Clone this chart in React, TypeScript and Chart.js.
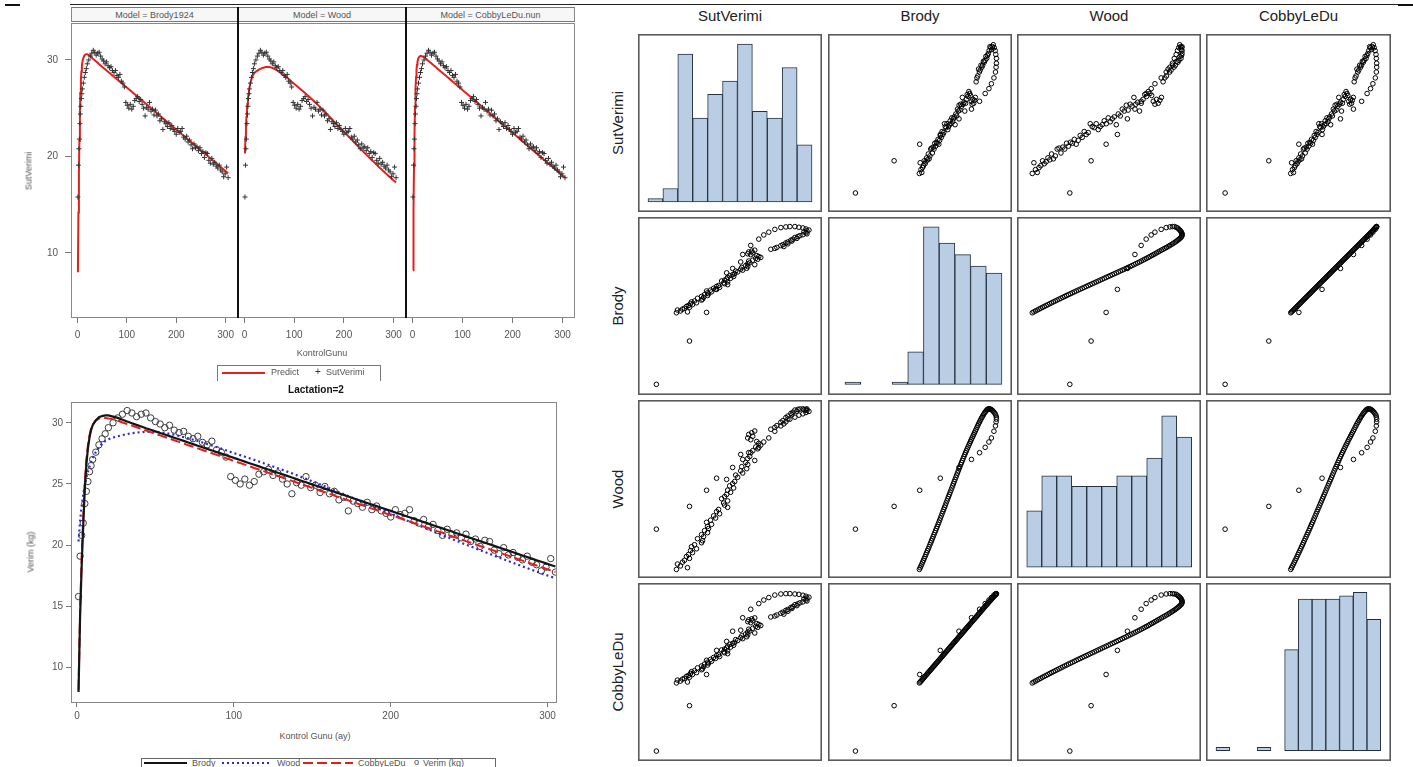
import React, { useEffect, useRef } from "react";
import { Chart, registerables } from "chart.js";
Chart.register(...registerables);

// ---------------- data ----------------
const days = [1, 2, 3, 4, 5, 6, 7, 8, 9, 10, 12, 14, 16, 18, 20,
  23, 26, 29, 32, 35, 38, 41, 44, 47, 50,
  53, 56, 59, 62, 65, 68, 71, 74, 77, 80,
  83, 86, 89, 92, 95, 98, 101, 104, 107, 110,
  113, 116, 119, 122, 125, 128, 131, 134, 137, 140,
  143, 146, 149, 152, 155, 158, 161, 164, 167, 170,
  173, 176, 179, 182, 185, 188, 191, 194, 197, 200,
  203, 206, 209, 212, 215, 218, 221, 224, 227, 230,
  233, 236, 239, 242, 245, 248, 251, 254, 257, 260,
  263, 266, 269, 272, 275, 278, 281, 284, 287, 290,
  293, 296, 299, 302, 305];

const sutVerimi = [15.8, 19.1, 20.8, 21.8, 23.4, 24.4, 25.2, 26.0, 26.5, 27.0, 27.6, 28.2, 28.7, 29.1, 29.6,
  30.0, 30.4, 30.7, 31.0, 30.8, 30.5, 30.7, 30.8, 30.4, 30.1,
  29.9, 29.6, 29.8, 29.4, 29.2, 29.3, 28.9, 28.7, 28.9, 28.4,
  28.2, 28.5, 27.8, 27.6, 27.2, 25.6, 25.3, 25.0, 25.4, 24.9,
  25.2, 25.8, 26.0, 26.2, 25.7, 25.9, 25.4, 25.0, 24.2, 25.1,
  24.9, 25.6, 24.7, 24.9, 24.3, 24.8, 24.2, 24.4, 23.7, 23.9,
  22.8, 23.6, 23.4, 23.1, 23.5, 22.9, 23.2, 22.8, 22.6, 22.3,
  22.9, 22.5, 22.6, 22.9, 22.0, 21.8, 22.1, 21.5, 21.7, 21.2,
  20.8, 21.3, 20.9, 21.0, 20.6, 20.9, 20.3, 20.5, 19.9, 20.4,
  20.3, 19.6, 19.3, 19.8, 19.2, 19.4, 19.0, 18.8, 19.1, 18.6,
  18.4, 17.9, 18.2, 18.9, 17.8];

const brody = [8.0, 14.2, 18.3, 21.6, 24.6, 26.6, 27.9, 28.8, 29.4, 29.8, 30.2, 30.45, 30.55, 30.6, 30.6,
  30.5, 30.4, 30.25, 30.1, 29.97, 29.83, 29.7, 29.56, 29.43, 29.3,
  29.17, 29.04, 28.91, 28.78, 28.65, 28.52, 28.39, 28.26, 28.13, 28.0,
  27.87, 27.74, 27.61, 27.48, 27.35, 27.22, 27.09, 26.96, 26.83, 26.7,
  26.57, 26.44, 26.31, 26.18, 26.05, 25.92, 25.79, 25.66, 25.53, 25.4,
  25.27, 25.14, 25.01, 24.88, 24.75, 24.62, 24.49, 24.36, 24.23, 24.1,
  23.97, 23.84, 23.71, 23.58, 23.45, 23.32, 23.19, 23.06, 22.93, 22.8,
  22.67, 22.54, 22.41, 22.28, 22.15, 22.02, 21.89, 21.76, 21.63, 21.5,
  21.37, 21.24, 21.11, 20.98, 20.85, 20.72, 20.59, 20.46, 20.33, 20.2,
  20.07, 19.94, 19.81, 19.68, 19.55, 19.42, 19.29, 19.16, 19.03, 18.9,
  18.77, 18.64, 18.51, 18.38, 18.25];

const wood = [20.3, 22.0, 23.2, 24.1, 24.9, 25.5, 26.0, 26.4, 26.8, 27.1, 27.6, 28.0, 28.3, 28.5, 28.65,
  28.8, 28.9, 29.0, 29.08, 29.15, 29.2, 29.24, 29.26, 29.27, 29.26,
  29.23, 29.18, 29.1, 29.02, 28.93, 28.83, 28.73, 28.62, 28.51, 28.39,
  28.27, 28.15, 28.02, 27.89, 27.75, 27.62, 27.49, 27.36, 27.23, 27.1,
  26.97, 26.84, 26.7, 26.57, 26.43, 26.29, 26.15, 26.01, 25.87, 25.72,
  25.57, 25.42, 25.27, 25.12, 24.96, 24.81, 24.65, 24.49, 24.33, 24.17,
  24.01, 23.85, 23.69, 23.53, 23.37, 23.21, 23.05, 22.89, 22.73, 22.57,
  22.41, 22.25, 22.09, 21.93, 21.77, 21.61, 21.45, 21.29, 21.13, 20.97,
  20.81, 20.66, 20.5, 20.35, 20.19, 20.04, 19.89, 19.74, 19.59, 19.44,
  19.29, 19.14, 18.99, 18.84, 18.7, 18.55, 18.41, 18.26, 18.12, 17.98,
  17.84, 17.7, 17.56, 17.43, 17.3];

const cobbyLeDu = [8.2, 14.6, 19.0, 22.4, 25.1, 27.0, 28.2, 29.0, 29.5, 29.85, 30.2, 30.35, 30.4, 30.4, 30.35,
  30.3, 30.17, 30.03, 29.9, 29.77, 29.64, 29.5, 29.37, 29.24, 29.1,
  28.97, 28.84, 28.71, 28.57, 28.44, 28.31, 28.17, 28.04, 27.91, 27.78,
  27.64, 27.51, 27.38, 27.24, 27.11, 26.98, 26.84, 26.71, 26.58, 26.45,
  26.31, 26.18, 26.05, 25.91, 25.78, 25.65, 25.52, 25.38, 25.25, 25.12,
  24.98, 24.85, 24.72, 24.59, 24.45, 24.32, 24.19, 24.05, 23.92, 23.79,
  23.66, 23.52, 23.39, 23.26, 23.12, 22.99, 22.86, 22.73, 22.59, 22.46,
  22.33, 22.19, 22.06, 21.93, 21.79, 21.66, 21.53, 21.4, 21.26, 21.13,
  21.0, 20.86, 20.73, 20.6, 20.47, 20.33, 20.2, 20.07, 19.93, 19.8,
  19.67, 19.54, 19.4, 19.27, 19.14, 19.0, 18.87, 18.74, 18.61, 18.47,
  18.34, 18.21, 18.07, 17.94, 17.81];

const sutHist = [1, 4, 44, 25, 32, 36, 47, 27, 25, 40, 17];
const brodyHist = [1, 0, 0, 1, 14, 68, 61, 56, 51, 48];
const woodHist = [16, 26, 26, 23, 23, 23, 26, 26, 31, 43, 37];
const cobbyHist = [1, 0, 0, 1, 0, 30, 45, 45, 45, 46, 47, 39];

const topXTicks = [0, 100, 200, 300];
const topYTicks = [10, 20, 30];
const bottomXTicks = [0, 100, 200, 300];
const bottomYTicks = [10, 15, 20, 25, 30];

const panelTitles = ["Model = Brody1924", "Model = Wood", "Model = CobbyLeDu.nun"];
const matrixNames = ["SutVerimi", "Brody", "Wood", "CobbyLeDu"];

// ---------------- layout ----------------
const FONT = "'Liberation Sans', Arial, Helvetica, sans-serif";
const PANEL_L = [71, 238, 406];
const PANEL_R = [238, 406, 575];
const MX_LEFT = [638, 828, 1017, 1206];
const MX_W = [184, 184, 184, 185];
const MX_TOP = [34, 217, 400, 583];
const MX_H = 178;
const AX_X = [[13.97, 32.3], [3.6, 33.1], [16.08, 30.78], [5.4, 32.5]];
const AX_Y = [[13.85, 32.1], [6.47, 31.97], [16.66, 29.93], [6.8, 31.9]];
const HIST_X = [[-0.67, 11.67], [-1.08, 10.64], [-0.65, 11.62], [-0.73, 12.75]];
const HIST_Y = [[-2.98, 49.98], [-4.6, 72.2], [-3.04, 47.5], [-3.06, 49.8]];

const framePlugin = (color: string, width: number) => ({
  id: "frame",
  afterDraw(chart: any) {
    const { ctx, chartArea: a } = chart;
    ctx.save();
    ctx.strokeStyle = color;
    ctx.lineWidth = width;
    ctx.strokeRect(a.left + width / 2, a.top + width / 2, a.right - a.left - width, a.bottom - a.top - width);
    ctx.restore();
  },
});

const baseOptions = (scales: any) => ({
  responsive: false,
  maintainAspectRatio: false,
  animation: false,
  events: [],
  layout: { padding: 0, autoPadding: false },
  plugins: { legend: { display: false }, tooltip: { enabled: false }, title: { display: false } },
  scales,
});

const tickFont = { family: FONT, size: 10 };

function xAxis(min: number, max: number, ticks: number[], height: number, tickLen: number, pad: number) {
  return {
    type: "linear", min, max,
    afterBuildTicks: (s: any) => { s.ticks = ticks.map((v) => ({ value: v })); },
    afterFit: (s: any) => { s.height = height; s.paddingLeft = 0; s.paddingRight = 0; },
    ticks: { color: "#555", font: tickFont, padding: pad, maxRotation: 0, autoSkip: false },
    grid: { display: true, drawOnChartArea: false, drawTicks: true, tickLength: tickLen, color: "#777" },
    border: { display: false },
  };
}

function yAxis(min: number, max: number, ticks: number[], width: number, tickLen: number, pad: number) {
  return {
    type: "linear", min, max,
    afterBuildTicks: (s: any) => { s.ticks = ticks.map((v) => ({ value: v })); },
    afterFit: (s: any) => { s.width = width; s.paddingTop = 0; s.paddingBottom = 0; },
    ticks: { color: "#555", font: tickFont, padding: pad, autoSkip: false },
    grid: { display: true, drawOnChartArea: false, drawTicks: true, tickLength: tickLen, color: "#777" },
    border: { display: false },
  };
}

const pts = (ys: number[]) => days.map((d, i) => ({ x: d, y: ys[i] }));

function ChartCanvas({ left, top, width, height, make }: any) {
  const ref = useRef<HTMLCanvasElement>(null);
  useEffect(() => {
    const chart = new Chart(ref.current as HTMLCanvasElement, make());
    return () => chart.destroy();
  }, []);
  return (
    <canvas ref={ref} width={width} height={height}
      style={{ position: "absolute", left, top, width, height }} />
  );
}

function Txt({ x, y, children, size = 10, color = "#444", bold = false, rotate = false }: any) {
  return (
    <div style={{
      position: "absolute", left: x, top: y,
      transform: `translate(-50%, -50%)${rotate ? " rotate(-90deg)" : ""}`,
      fontSize: size, color, fontWeight: bold ? "bold" : "normal", whiteSpace: "nowrap",
      lineHeight: 1, fontFamily: FONT,
    }}>{children}</div>
  );
}

const topModels = [brody, wood, cobbyLeDu];

function topPanelConfig(i: number) {
  const scales = {
    x: xAxis(-13, 325, topXTicks, 30, 5, 6),
    y: i === 0 ? yAxis(3.26, 33.83, topYTicks, 51, 6, 7) : { type: "linear", display: false, min: 3.26, max: 33.83 },
  };
  return {
    type: "scatter",
    data: {
      datasets: [
        { data: pts(sutVerimi), pointStyle: "cross", pointRadius: 2.5, pointBorderColor: "#333", pointBorderWidth: 1, showLine: false },
        { data: pts(topModels[i]), showLine: true, borderColor: "#e3211c", borderWidth: 2, pointRadius: 0, tension: 0 },
      ],
    },
    options: baseOptions(scales),
    plugins: [framePlugin("#888", 1)],
  };
}

function bottomConfig() {
  const scales = {
    x: xAxis(-3.8, 306, bottomXTicks, 25, 4, 3),
    y: yAxis(7.1, 31.7, bottomYTicks, 51, 5, 3),
  };
  return {
    type: "scatter",
    data: {
      datasets: [
        { data: pts(brody), showLine: true, borderColor: "#151515", borderWidth: 2.2, pointRadius: 0, tension: 0 },
        { data: pts(cobbyLeDu), showLine: true, borderColor: "#e01f1f", borderWidth: 2, borderDash: [10, 4], pointRadius: 0, tension: 0 },
        { data: pts(wood), showLine: true, borderColor: "#2b2bd6", borderWidth: 2.2, borderDash: [2, 3], pointRadius: 0, tension: 0 },
        { data: pts(sutVerimi), pointStyle: "circle", pointRadius: 3.2, pointBorderColor: "#3c3c3c", pointBackgroundColor: "rgba(0,0,0,0)", pointBorderWidth: 1, showLine: false },
      ],
    },
    options: baseOptions(scales),
    plugins: [framePlugin("#888", 1)],
  };
}

const vars = [sutVerimi, brody, wood, cobbyLeDu];
const hists = [sutHist, brodyHist, woodHist, cobbyHist];

function cellConfig(r: number, c: number) {
  if (r === c) {
    return {
      type: "bar",
      data: {
        datasets: [{
          data: hists[r].map((v, i) => ({ x: i + 0.5, y: v })),
          backgroundColor: "#b9cde5", borderColor: "#26313f", borderWidth: 1, borderSkipped: false,
          barPercentage: 1, categoryPercentage: 1,
        }],
      },
      options: baseOptions({
        x: { type: "linear", display: false, offset: false, min: HIST_X[r][0], max: HIST_X[r][1] },
        y: { type: "linear", display: false, min: HIST_Y[r][0], max: HIST_Y[r][1] },
      }),
      plugins: [framePlugin("#5a5a5a", 1.6)],
    };
  }
  const xs = vars[c];
  const ys = vars[r];
  return {
    type: "scatter",
    data: {
      datasets: [{
        data: xs.map((x, i) => ({ x, y: ys[i] })),
        pointStyle: "circle", pointRadius: 2.3, pointBorderWidth: 1,
        pointBorderColor: "#000", pointBackgroundColor: "rgba(0,0,0,0)",
      }],
    },
    options: baseOptions({
      x: { type: "linear", display: false, min: AX_X[c][0], max: AX_X[c][1] },
      y: { type: "linear", display: false, min: AX_Y[r][0], max: AX_Y[r][1] },
    }),
    plugins: [framePlugin("#5a5a5a", 1.6)],
  };
}

export default function App() {
  const cells: any[] = [];
  for (let r = 0; r < 4; r++) {
    for (let c = 0; c < 4; c++) {
      cells.push(
        <ChartCanvas key={`c${r}${c}`} left={MX_LEFT[c]} top={MX_TOP[r]} width={MX_W[c]} height={MX_H}
          make={() => cellConfig(r, c)} />
      );
    }
  }
  return (
    <div style={{ position: "absolute", left: 0, top: 0, width: 1413, height: 767, background: "#fff", overflow: "hidden", fontFamily: FONT }}>
      {/* top rule */}
      <div style={{ position: "absolute", left: 70, top: 4, width: 1328, height: 1, background: "#222" }} />
      <div style={{ position: "absolute", left: 5, top: 4, width: 15, height: 2, background: "#111" }} />
      <div style={{ position: "absolute", left: 1398, top: 4, width: 15, height: 2, background: "#111" }} />

      {/* top-left panels */}
      <ChartCanvas left={20} top={23} width={218} height={325} make={() => topPanelConfig(0)} />
      <ChartCanvas left={238} top={23} width={168} height={325} make={() => topPanelConfig(1)} />
      <ChartCanvas left={406} top={23} width={169} height={325} make={() => topPanelConfig(2)} />
      <div style={{ position: "absolute", left: 71, top: 7, width: 504, height: 15, borderTop: "1px solid #777", borderBottom: "1px solid #777", borderLeft: "1px solid #888", borderRight: "1px solid #888", background: "#f7f7f7", boxSizing: "border-box" }} />
      {panelTitles.map((t, i) => (
        <Txt key={t} x={(PANEL_L[i] + PANEL_R[i]) / 2} y={15} size={9} color="#555">{t}</Txt>
      ))}
      <div style={{ position: "absolute", left: 237, top: 7, width: 2, height: 311, background: "#111" }} />
      <div style={{ position: "absolute", left: 405, top: 7, width: 2, height: 311, background: "#111" }} />
      <Txt x={29} y={171} size={9} color="#555" rotate>SutVerimi</Txt>
      <Txt x={322} y={353} size={9} color="#555">KontrolGunu</Txt>
      <div style={{ position: "absolute", left: 217, top: 365, width: 164, height: 16, border: "1px solid #777", borderBottom: "none", boxSizing: "border-box" }} />
      <div style={{ position: "absolute", left: 222, top: 372, width: 43, height: 2, background: "#e3211c" }} />
      <div style={{ position: "absolute", left: 271, top: 368, fontSize: 9, color: "#555", lineHeight: 1, fontFamily: FONT }}>Predict</div>
      <div style={{ position: "absolute", left: 315, top: 367, fontSize: 10, color: "#333", lineHeight: 1, fontFamily: FONT }}>+</div>
      <div style={{ position: "absolute", left: 326, top: 368, fontSize: 9, color: "#555", lineHeight: 1, fontFamily: FONT }}>SutVerimi</div>
      <Txt x={316} y={390} size={10} color="#111" bold>Lactation=2</Txt>

      {/* bottom-left chart */}
      <ChartCanvas left={20} top={402} width={537} height={326} make={bottomConfig} />
      <Txt x={31} y={552} size={9} color="#555" rotate>Verim (kg)</Txt>
      <Txt x={315} y={736} size={9} color="#555">Kontrol Gunu (ay)</Txt>
      <div style={{ position: "absolute", left: 141, top: 758, width: 355, height: 14, border: "1px solid #666", boxSizing: "border-box" }} />
      <div style={{ position: "absolute", left: 144, top: 762, width: 43, height: 2, background: "#151515" }} />
      <div style={{ position: "absolute", left: 192, top: 759, fontSize: 9, color: "#555", lineHeight: 1, fontFamily: FONT }}>Brody</div>
      <div style={{ position: "absolute", left: 222, top: 762, width: 50, height: 2, background: "repeating-linear-gradient(90deg, #2b2bd6 0 2px, transparent 2px 5px)" }} />
      <div style={{ position: "absolute", left: 277, top: 759, fontSize: 9, color: "#555", lineHeight: 1, fontFamily: FONT }}>Wood</div>
      <div style={{ position: "absolute", left: 303, top: 762, width: 50, height: 2, background: "repeating-linear-gradient(90deg, #e01f1f 0 10px, transparent 10px 14px)" }} />
      <div style={{ position: "absolute", left: 358, top: 759, fontSize: 9, color: "#555", lineHeight: 1, fontFamily: FONT }}>CobbyLeDu</div>
      <div style={{ position: "absolute", left: 414, top: 758, fontSize: 9, color: "#444", lineHeight: 1, fontFamily: FONT }}>o</div>
      <div style={{ position: "absolute", left: 423, top: 759, fontSize: 9, color: "#555", lineHeight: 1, fontFamily: FONT }}>Verim (kg)</div>

      {/* scatter-plot matrix */}
      {cells}
      {matrixNames.map((n, i) => (
        <Txt key={`h${n}`} x={MX_LEFT[i] + MX_W[i] / 2} y={15} size={15} color="#222">{n}</Txt>
      ))}
      {matrixNames.map((n, i) => (
        <Txt key={`v${n}`} x={617} y={MX_TOP[i] + MX_H / 2} size={15} color="#222" rotate>{n}</Txt>
      ))}
    </div>
  );
}
